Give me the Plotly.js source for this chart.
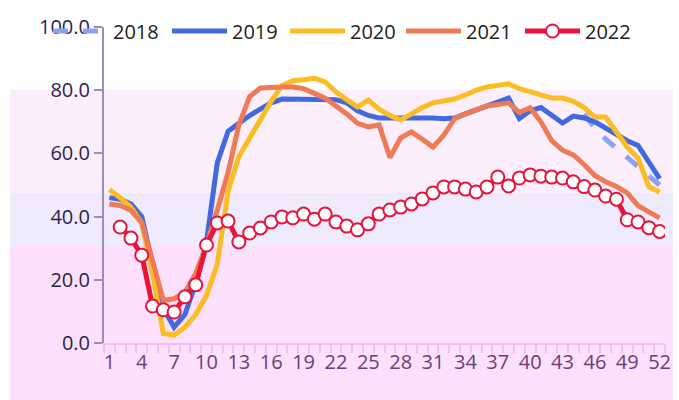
<!DOCTYPE html>
<html>
<head>
<meta charset="utf-8">
<script src="https://cdn.plot.ly/plotly-3.0.1.min.js"></script>
<style>html,body{margin:0;padding:0;background:#fff;}#chart{width:679px;height:400px;}</style>
</head>
<body>
<div id="chart"></div>
<script>
// ---- data ----
var weeks = [];
for (var i = 1; i <= 52; i++) weeks.push(i);
var tickWeeks = [1,4,7,10,13,16,19,22,25,28,31,34,37,40,43,46,49,52];
var tickLabels = ["1","4","7","10","13","16","19","22","25","28","31","34","37","40","43","46","49","52"];
var seriesNames = ["2018","2019","2020","2021","2022"];

var y2018 = [null,null,null,null,null,null,null,null,null,null,
  null,null,null,null,null,null,null,null,null,null,
  null,null,null,null,null,null,null,null,null,null,
  null,null,null,null,null,null,null,null,null,null,
  null,null,null,null,72.5,68,64.5,61.5,58.5,55.5,52.5,50];
var y2019 = [46,45.5,44,40,25,11,5,9,19,32,
  57,67,69.5,72,74,76,77.2,77.2,77.3,77.3,
  77.2,77,76,73.5,72,71.2,71.2,71.2,71.5,71.5,
  71.2,71,71.2,72.5,73.8,75.2,76.5,77.5,71,73.5,
  74.5,72,69.6,71.8,71.2,70,68,65.8,64,62.5,57,52];
var y2020 = [48.5,46,43,38,22,3,2.5,5,9,15,
  25,48,59,65,71,76.5,81.5,83,83.3,83.8,
  82.6,79.5,77,74.7,76.9,74,72,70.6,72.5,74.5,
  76,76.5,77.2,78.5,80,81,81.5,82,80.5,79.5,
  78.2,77.5,77.5,76.5,74.5,71.5,71.5,67,62,58.5,49.5,47.8];
var y2021 = [44,43.5,42,38,26,13.5,14,16,22,31,
  42,54,69,78,80.7,81,81,81,80.5,79,
  77.5,75,72.5,69.5,68.4,69,58.7,64.9,66.8,64.5,
  62,65.8,71,72.5,73.8,75,75.5,76,73,74.4,
  70,64,61,59.5,56.5,53,51,49.5,47.5,43.5,41.5,39.6];
var y2022 = [null,36.7,33.2,27.8,11.7,10.5,9.8,14.6,18.4,31,
  38,38.6,32,34.8,36.4,38.3,39.9,39.6,40.8,39.2,
  40.8,38.3,37,35.8,37.7,40.8,42.1,43,44,45.6,
  47.5,49.4,49.4,48.7,47.8,49.4,52.5,49.7,52.2,53.2,
  52.8,52.5,52.2,51,49.5,48.4,46.5,45.5,39,38.3,36.5,35.3];

var seriesColors = ["#8ea2f2","#4169e1","#fbbd23","#ee7b55","#e8143c"];

// ---- geometry helpers (layout only) ----
var W = 679, H = 400, mL = 104, mR = 14, mT = 27, mB = 57;
var pw = W - mL - mR, ph = H - mT - mB;
function px(x){ return (x - mL) / pw; }
function py(y){ return (H - mB - y) / ph; }
var legendLeft = [48, 167, 285, 401, 520];
var legendIds = ['legend', 'legend2', 'legend3', 'legend4', 'legend5'];

var ys = [y2018, y2019, y2020, y2021, y2022];
var traces = ys.map(function(arr, k){
  var t = {
    type: 'scatter',
    x: weeks,
    y: arr,
    name: seriesNames[k],
    legend: legendIds[k],
    mode: 'lines',
    connectgaps: true,
    line: {color: seriesColors[k], width: 5}
  };
  if (k === 0) t.line.dash = 'dash';
  if (k === 4) {
    t.mode = 'lines+markers';
    t.marker = {symbol: 'circle', size: 13, color: '#ffffff', line: {color: seriesColors[k], width: 2}};
  }
  return t;
});

var bands = [
  {y0: 90, y1: 193, c: '#fdeefb'},
  {y0: 193, y1: 245, c: '#efeafc'},
  {y0: 245, y1: 400, c: '#fde0fb'}
];
var shapes = bands.map(function(b){
  return {type: 'rect', xref: 'paper', yref: 'paper', layer: 'below',
    x0: px(10), x1: px(673), y0: py(b.y1), y1: py(b.y0),
    fillcolor: b.c, line: {width: 0}};
});

var layout = {
  width: W, height: H,
  margin: {l: mL, r: mR, t: mT, b: mB, pad: 0, autoexpand: false},
  paper_bgcolor: '#ffffff',
  plot_bgcolor: 'rgba(0,0,0,0)',
  font: {family: '"Open Sans", "Noto Sans", sans-serif', size: 20, color: '#222'},
  showlegend: true,
  xaxis: {
    type: 'linear', range: [0.5, 52.5], fixedrange: true,
    tickmode: 'array', tickvals: tickWeeks, ticktext: tickLabels,
    ticks: '', showgrid: false, zeroline: false,
    showline: true, linecolor: '#f7bdf1', linewidth: 2,
    tickfont: {size: 20, color: '#6e3c7c'},
    minor: {tickmode: 'linear', tick0: 0.5, dtick: 1, ticks: 'outside', ticklen: 8, tickcolor: '#f7bdf1', tickwidth: 2, showgrid: false}
  },
  yaxis: {
    range: [0, 100], fixedrange: true, dtick: 20, tickformat: '.1f',
    ticks: 'outside', ticklen: 8, tickcolor: '#9c8cc0', tickwidth: 2,
    showgrid: false, zeroline: false,
    showline: true, linecolor: '#9c8cc0', linewidth: 2,
    tickfont: {size: 20, color: '#2a2450'}
  },
  shapes: shapes
};
legendIds.forEach(function(id, k){
  layout[id] = {
    orientation: 'h', xref: 'container', yref: 'container',
    x: legendLeft[k] / W, xanchor: 'left', y: 1 - 31 / H, yanchor: 'middle',
    bgcolor: 'rgba(0,0,0,0)', itemwidth: 55,
    font: {family: '"Open Sans", "Noto Sans", sans-serif', size: 20, color: '#222'}
  };
});

Plotly.newPlot('chart', traces, layout, {staticPlot: true, displayModeBar: false});
</script>
</body>
</html>
